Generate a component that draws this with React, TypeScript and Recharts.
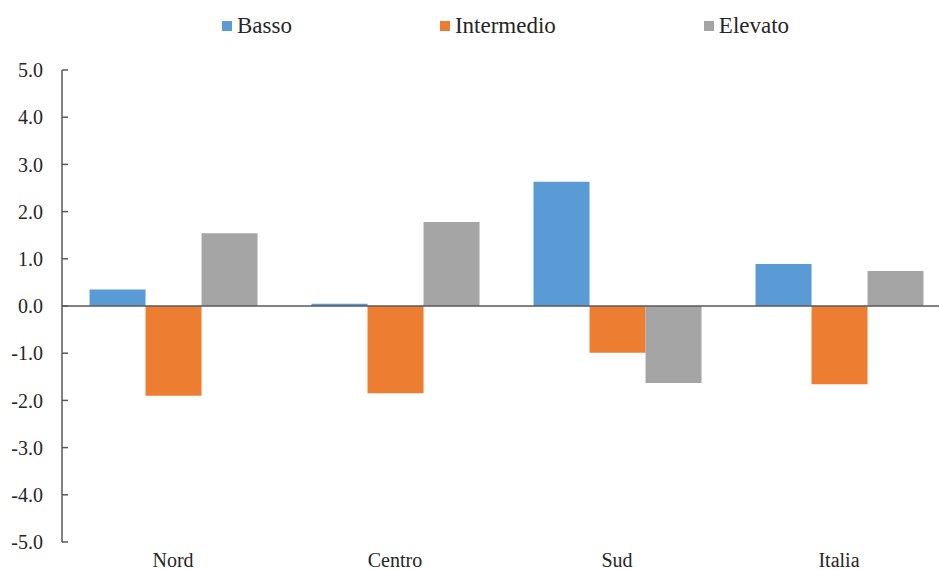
import { BarChart, Bar, XAxis, YAxis, ReferenceLine } from 'recharts'

const areas = ['Nord', 'Centro', 'Sud', 'Italia']
const basso = [0.35, 0.05, 2.63, 0.89]
const intermedio = [-1.9, -1.85, -0.99, -1.66]
const elevato = [1.54, 1.78, -1.63, 0.74]
const yTicks = [-5, -4, -3, -2, -1, 0, 1, 2, 3, 4, 5]

const series = [
  { key: 'basso', name: 'Basso', color: '#5B9BD5' },
  { key: 'intermedio', name: 'Intermedio', color: '#ED7D31' },
  { key: 'elevato', name: 'Elevato', color: '#A5A5A5' },
]

const data = areas.map((area, i) => ({
  area,
  basso: basso[i],
  intermedio: intermedio[i],
  elevato: elevato[i],
}))

const font = '"Liberation Serif", "Times New Roman", serif'
const axisColor = '#595959'
const textColor = '#262626'

function LegendRow() {
  return (
    <div
      style={{
        position: 'absolute',
        left: 222,
        top: 13,
        display: 'flex',
        gap: 148,
        fontFamily: font,
        fontSize: 23,
        lineHeight: '26px',
        color: textColor,
        zIndex: 1,
      }}
    >
      {series.map((s) => (
        <div key={s.key} style={{ display: 'flex', alignItems: 'center' }}>
          <span style={{ width: 10, height: 10, background: s.color, marginRight: 5, display: 'inline-block' }} />
          <span>{s.name}</span>
        </div>
      ))}
    </div>
  )
}

export default function App() {
  return (
    <div style={{ position: 'absolute', left: 0, top: 0, width: 939, height: 570, overflow: 'hidden', background: '#fff' }}>
      <LegendRow />
      <BarChart
        width={950}
        height={570}
        data={data}
        margin={{ top: 70, right: 0, bottom: 0, left: 0 }}
        barCategoryGap="12.4%"
        barGap={0}
      >
        <XAxis
          dataKey="area"
          axisLine={false}
          tickLine={false}
          tickSize={0}
          tickMargin={11}
          height={28}
          tick={{ fontFamily: font, fontSize: 20, fill: textColor }}
        />
        <YAxis
          domain={[-5, 5]}
          ticks={yTicks}
          tickFormatter={(v: number) => v.toFixed(1)}
          width={62}
          tickSize={-6}
          tickMargin={25}
          axisLine={{ stroke: axisColor, strokeWidth: 1.5 }}
          tickLine={{ stroke: axisColor, strokeWidth: 1.5 }}
          tick={{ fontFamily: font, fontSize: 20, fill: textColor }}
          interval={0}
        />
        {series.map((s) => (
          <Bar key={s.key} dataKey={s.key} name={s.name} fill={s.color} isAnimationActive={false} />
        ))}
        <ReferenceLine y={0} stroke={axisColor} strokeWidth={1.5} />
      </BarChart>
    </div>
  )
}
